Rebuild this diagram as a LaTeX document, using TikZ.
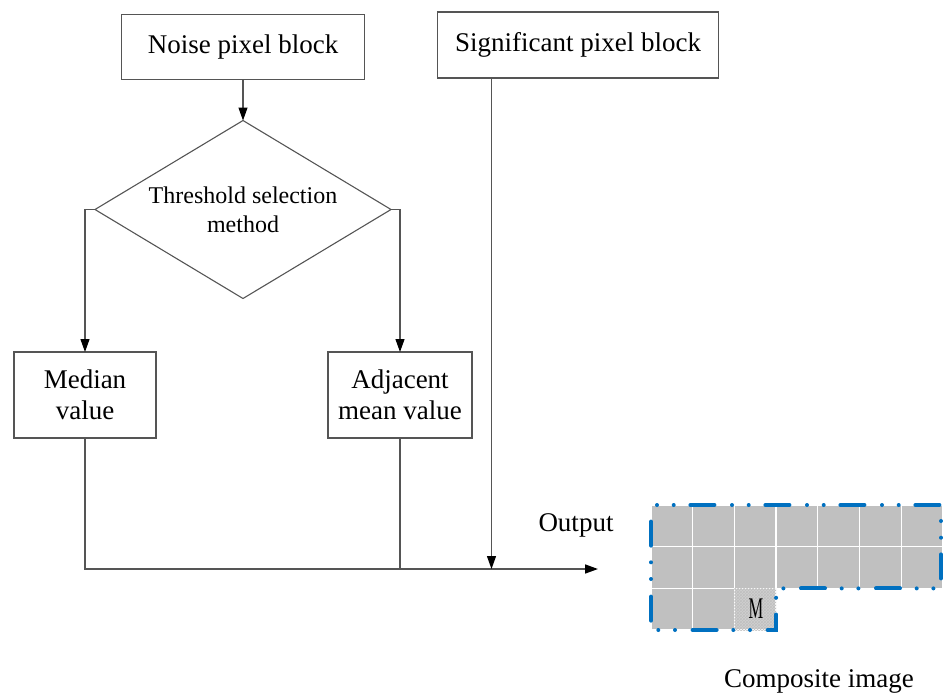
\documentclass[tikz,border=0pt]{standalone}
\usepackage{fontspec}
\setmainfont{Liberation Serif}
\usepackage{xcolor}
\usetikzlibrary{arrows.meta}
\usetikzlibrary{positioning}
\usetikzlibrary{shapes.geometric}
\usetikzlibrary{patterns}
\definecolor{linegray}{RGB}{85,85,85}
\definecolor{cellgray}{RGB}{192,192,192}
\definecolor{edgeblue}{RGB}{0,112,192}

\begin{document}
\begin{tikzpicture}[
    x=1pt,y=-1pt,outer sep=0pt,node distance=0pt,
    mybox/.style={draw=linegray,line width=1.1pt,rectangle,align=center,font=\fontsize{27}{31}\selectfont},
    mydiamond/.style={draw=linegray,line width=1.1pt,diamond,aspect=1.66,inner sep=0pt,align=center,font=\fontsize{24}{29}\selectfont},
    conn/.style={draw=linegray,line width=1.2pt,-{Triangle[length=13pt,width=9pt,black]}},
    wire/.style={draw=linegray,line width=1.2pt},
    cell/.style={fill=cellgray,draw=white,line width=1.3pt},
    outline/.style={draw=edgeblue,line width=4pt,line cap=round,dash pattern=on 0pt off 16.7pt on 0pt off 16.7pt on 24pt off 17.6pt,dash phase=69pt},
    ]
    \useasboundingbox (0,0) rectangle (943,694);

    \node (noise)  at (243,47)                  [mybox,minimum width=243pt,minimum height=65pt] {Noise pixel block};
    \node (signif) at (578,45)                  [mybox,minimum width=281pt,minimum height=66pt] {Significant pixel block};
    \node (thresh) [below=41pt of noise]        [mydiamond,minimum width=296pt,minimum height=178pt] {Threshold selection\\method};

    \node (median)   at (85,395)                [mybox,minimum width=142pt,minimum height=86pt] {Median\\value};
    \node (adjacent) [right=172pt of median]    [mybox,minimum width=144pt,minimum height=86pt] {Adjacent\\mean value};

    \coordinate (outend) at (598,569);
    \coordinate (sigdrop) at ([xshift=54pt]signif.south west);

    \draw [conn] (noise.south) -- (thresh.north);
    \draw [conn] (thresh.west) -| (median.north);
    \draw [conn] (thresh.east) -| (adjacent.north);

    \draw [conn,line width=1.6pt] (median.south) |- (outend);
    \draw [wire] (adjacent.south) -- (adjacent.south |- outend);
    \draw [conn] (sigdrop) -- (sigdrop |- outend);

    \node (outlbl) at (576,525) [font=\fontsize{27}{31}\selectfont] {Output};

    % composite image grid
    \foreach \r/\n in {0/6,1/6,2/1}{
      \foreach \c in {0,...,\n}
        \draw [cell] ({651+\c*41.7},{505+\r*41.7}) rectangle ++(41.7,41.7);
    }
    \draw [cell,fill=cellgray!75!white] (734.4,588.4) rectangle ++(41.7,41.7);
    \fill [pattern=crosshatch,pattern color=cellgray] (734.4,588.4) rectangle ++(41.7,41.7);
    \node (mpix) at (756,609) [font=\fontsize{30}{34}\selectfont] {\scalebox{0.55}[1]{M}};

    \draw [outline] (651,505) -- (941,505) -- (941,588.4) -- (776.1,588.4) -- (776.1,630) -- (651,630) -- cycle;

    \node (compos) at (819,681) [font=\fontsize{27}{31}\selectfont] {Composite image};
  \end{tikzpicture}
\end{document}
